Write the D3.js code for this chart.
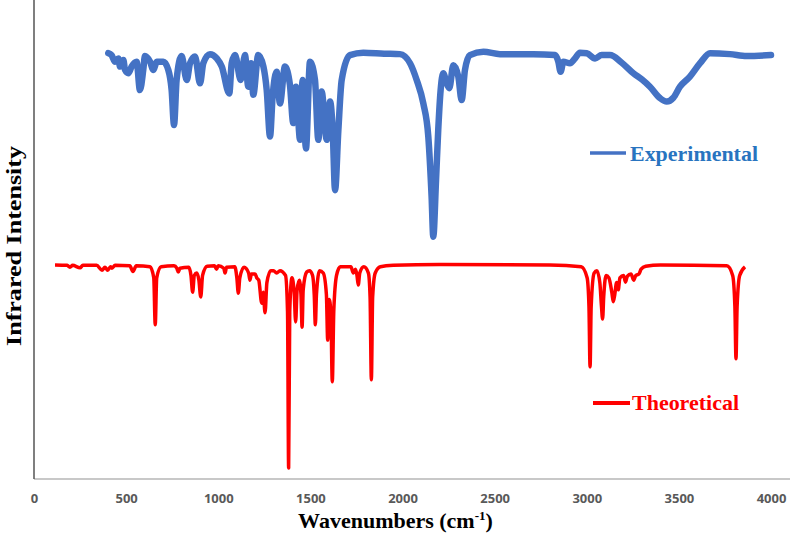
<!DOCTYPE html>
<html><head><meta charset="utf-8">
<script src="https://cdn.jsdelivr.net/npm/d3@7/dist/d3.min.js"></script>
<style>html,body{margin:0;padding:0;background:#fff;}svg{display:block;}</style>
</head><body>
<svg id="c" width="796" height="536"></svg>
<script>
// X tick labels
const xTicks = [0, 500, 1000, 1500, 2000, 2500, 3000, 3500, 4000];
// Experimental spectrum (wavenumber, relative intensity)
const expWave = [403,421,440,458,467,485,494,512,530,557,575,593,602,630,648,666,702,729,747,760,774,801,829,847,874,901,919,955,992,1019,1060,1073,1091,1122,1145,1163,1178,1190,1217,1245,1263,1281,1295,1317,1335,1362,1389,1407,1422,1444,1458,1476,1498,1525,1543,1561,1589,1607,1621,1634,1652,1670,1715,1787,1900,1986,2041,2077,2113,2140,2158,2167,2182,2194,2207,2221,2240,2254,2276,2303,2321,2339,2366,2439,2529,2710,2828,2846,2858,2873,2909,2936,2963,3000,3045,3081,3126,3190,3253,3300,3343,3398,3434,3470,3506,3560,3615,3669,3777,3868,4000];
const expInt  = [88.9,88.5,87.1,87.8,86.1,87.5,85.4,84.7,86.1,87.1,81.2,85.4,88.3,87.1,85.4,87.1,87.1,85.4,81.2,73.9,83.3,88.3,83.3,86.8,88.2,82.6,86.8,88.7,87.8,86.1,80.5,86.8,88.5,83.3,88.5,81.9,86.8,80.2,88.5,86.1,81.2,71.5,79.8,85.0,78.4,86.1,82.3,74.3,81.9,70.8,83.3,69.0,87.1,83.3,70.8,80.9,70.8,78.8,72.9,60.3,72.9,83.3,88.5,89.0,88.8,88.7,86.8,83.3,78.4,71.5,58.9,50.6,62.4,72.9,81.2,84.7,82.6,81.6,86.4,84.0,79.1,85.4,88.5,89.2,88.7,88.7,88.5,87.1,85.0,87.1,86.8,87.8,89.0,88.9,87.8,88.5,88.5,86.9,84.7,83.4,81.9,79.5,78.8,79.6,81.9,84.0,86.8,88.9,88.7,88.3,88.5];
// Theoretical spectrum (wavenumber, relative intensity)
const theoWave = [114,180,195,210,250,265,340,369,385,400,415,423,440,520,537,555,630,650,658,666,690,760,775,783,792,840,852,861,870,883,895,905,915,940,980,991,1000,1030,1037,1045,1090,1101,1109,1117,1140,1165,1172,1180,1200,1209,1220,1236,1244,1254,1264,1285,1300,1317,1335,1365,1376,1382,1388,1400,1412,1420,1428,1440,1449,1455,1461,1480,1495,1512,1521,1527,1533,1550,1570,1587,1594,1602,1611,1619,1627,1642,1662,1720,1733,1745,1753,1760,1768,1790,1815,1824,1831,1838,1852,1880,1950,2200,2800,2970,3002,3012,3018,3024,3040,3055,3071,3080,3086,3092,3105,3120,3136,3144,3152,3162,3171,3180,3200,3210,3220,3240,3255,3266,3283,3295,3320,3400,3760,3792,3804,3810,3816,3830,3859];
const theoInt  = [44.7,44.6,44.2,44.6,44.1,44.6,44.6,43.6,44.2,43.6,44.3,44.0,44.6,44.5,43.3,44.5,44.3,42.0,32.2,42.0,44.3,44.5,44.0,43.2,44.0,44.2,42.5,39.0,42.5,43.0,41.5,38.0,42.5,44.4,44.5,43.8,44.5,44.0,43.0,44.2,44.3,42.0,38.8,42.0,44.2,43.0,41.5,42.8,42.8,42.0,41.5,36.7,39.0,34.7,41.0,43.5,43.5,43.0,43.5,42.5,35.0,2.3,35.0,42.0,39.0,32.8,39.5,41.5,38.5,31.7,39.5,43.2,43.5,42.5,38.5,32.2,38.5,43.5,43.0,38.5,29.0,37.5,35.0,20.3,35.0,42.5,44.3,44.3,43.0,43.8,42.5,40.5,43.0,44.3,43.0,38.0,20.7,38.0,43.0,44.3,44.6,44.8,44.7,44.3,42.0,36.0,23.4,36.0,43.0,43.5,41.0,36.0,33.4,38.0,42.5,42.0,39.0,37.0,38.5,41.0,39.5,42.0,42.5,41.1,42.3,42.8,41.5,42.5,42.8,43.8,44.4,44.7,44.5,42.5,36.0,25.1,36.0,42.5,44.3];
const seriesNames = ["Experimental", "Theoretical"];
const seriesColors = ["#4472C4", "#FF0000"];
const labelColors = ["#2874C0", "#FF0000"];

const svg = d3.select("#c");
svg.append("rect").attr("width",796).attr("height",536).attr("fill","#fff");

const x = d3.scaleLinear().domain([0, 4000]).range([34, 771]);
const y = d3.scaleLinear().domain([0, 100]).range([479, 0]);

// axes lines
svg.append("line").attr("x1",34).attr("x2",790).attr("y1",479).attr("y2",479)
  .attr("stroke","#c8c8c8").attr("stroke-width",2);
svg.append("line").attr("x1",34).attr("x2",34).attr("y1",0).attr("y2",479)
  .attr("stroke","#555").attr("stroke-width",1.5);

// x axis tick labels via d3 axis
const xAxis = d3.axisBottom(x).tickValues(xTicks).tickSize(0).tickPadding(0).tickFormat(d3.format("d"));
const gx = svg.append("g").attr("transform","translate(0,494)").call(xAxis);
gx.select(".domain").remove();
gx.selectAll("text").attr("font-family","'Open Sans', sans-serif").attr("font-weight","bold")
  .attr("font-size",13).attr("fill","#595959").attr("dy","0.71em");

const line = d3.line().x(d => x(d[0])).y(d => y(d[1])).curve(d3.curveMonotoneX);

const expData = expWave.map((w,i) => [w, expInt[i]]);
const theoData = theoWave.map((w,i) => [w, theoInt[i]]);

svg.append("path").datum(theoData).attr("d", line).attr("fill","none")
  .attr("stroke", seriesColors[1]).attr("stroke-width",3.5).attr("stroke-linejoin","round");
svg.append("path").datum(expData).attr("d", line).attr("fill","none")
  .attr("stroke", seriesColors[0]).attr("stroke-width",6.5).attr("stroke-linejoin","round").attr("stroke-linecap","round");

// legends
const legends = [
  {lx1:590, lx2:626, ly:153, tx:630, ty:161, w:128},
  {lx1:593, lx2:630, ly:403, tx:632, ty:410, w:107}
];
legends.forEach((l,i) => {
  svg.append("line").attr("x1",l.lx1).attr("x2",l.lx2).attr("y1",l.ly).attr("y2",l.ly)
    .attr("stroke", seriesColors[i]).attr("stroke-width", i===0?3.5:4);
  svg.append("text").attr("x",l.tx).attr("y",l.ty).text(seriesNames[i])
    .attr("font-family","'Liberation Serif', 'Times New Roman', serif").attr("font-weight","bold")
    .attr("font-size",22).attr("fill",labelColors[i])
    .attr("textLength", l.w).attr("lengthAdjust","spacingAndGlyphs");
});

// axis titles
const xt = svg.append("text").attr("x",395.5).attr("y",528).attr("text-anchor","middle")
  .attr("font-family","'Liberation Serif', 'Times New Roman', serif").attr("font-weight","bold")
  .attr("font-size",22).attr("fill","#000");
xt.append("tspan").text("Wavenumbers (cm");
xt.append("tspan").text("-1").attr("font-size",13).attr("dy",-8);
xt.append("tspan").text(")").attr("dy",8);

svg.append("text").attr("transform","translate(21,246) rotate(-90)").attr("text-anchor","middle")
  .attr("font-family","'Liberation Serif', 'Times New Roman', serif").attr("font-weight","bold")
  .attr("font-size",22).attr("fill","#000")
  .attr("textLength",200).attr("lengthAdjust","spacingAndGlyphs")
  .text("Infrared Intensity");
</script>
</body></html>
